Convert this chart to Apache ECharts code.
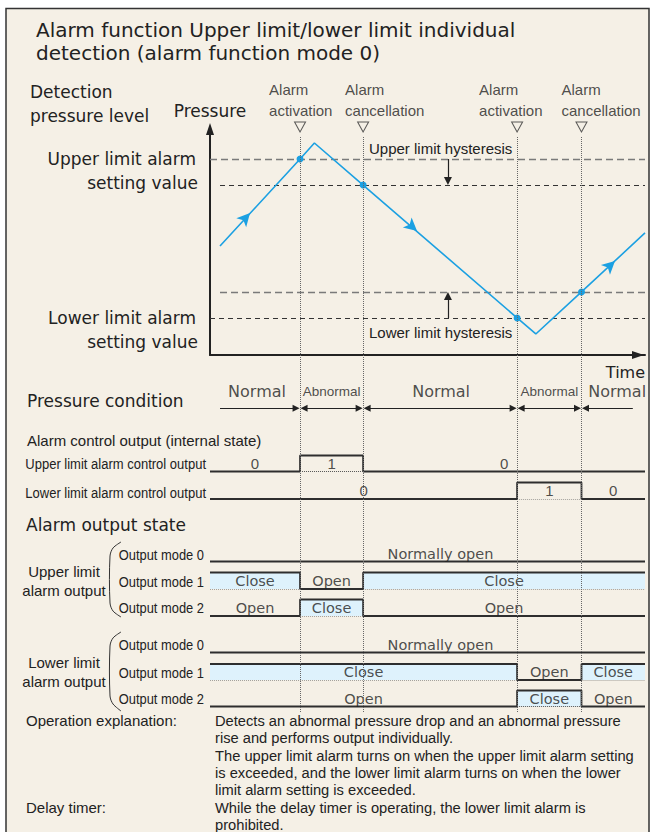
<!DOCTYPE html>
<html>
<head>
<meta charset="utf-8">
<script src="https://cdn.jsdelivr.net/npm/echarts@6/dist/echarts.min.js"></script>
<style>
html, body { margin: 0; padding: 0; background: #fff; }
#main { width: 654px; height: 832px; }
</style>
</head>
<body>
<div id="main"></div>
<script>
// time runs 0..100 across the diagram, pressure 0..100 up the chart
var eventTimes = [20.7, 35.2, 70.6, 85.4];
var eventLabels = ['Alarm\nactivation', 'Alarm\ncancellation', 'Alarm\nactivation', 'Alarm\ncancellation'];

// pressure trace (includes the four crossing points)
var traceTime = [2.3, 20.7, 24.0, 35.2, 70.6, 74.9, 85.4, 100];
var tracePressure = [48.2, 86.7, 93.8, 75.2, 16.4, 9.3, 27.9, 54.0];
var crossingIndex = [1, 3, 4, 6];
var flowTime = [9.2, 47.6, 93.1];
var flowPressure = [62.8, 54.9, 41.6];
var flowAngle = [47.5, -40.9, 42.8];

// setting levels: upper setting, upper reset, lower reset, lower setting
var levelValues = [86.7, 75.2, 27.9, 16.4];
var levelStart = [0, 2.3, 2.3, 0];
var hysteresisTime = 54.7;

// pressure condition
var conditionBreaks = [2.3].concat(eventTimes, [97.2]);
var conditionNames = ['Normal', 'Abnormal', 'Normal', 'Abnormal', 'Normal'];

// output states between breaks (1 = high / Close)
var stateBreaks = [0].concat(eventTimes, [100]);
var upperControl = [0, 1, 0, 0, 0];
var lowerControl = [0, 0, 0, 1, 0];
var upperMode0 = [0, 0, 0, 0, 0];
var upperMode1 = [1, 0, 1, 1, 1];
var upperMode2 = [0, 1, 0, 0, 0];
var lowerMode0 = [0, 0, 0, 0, 0];
var lowerMode1 = [1, 1, 1, 0, 1];
var lowerMode2 = [0, 0, 0, 1, 0];

var rows = [
  { name: 'Upper limit alarm control output', states: upperControl, kind: 'ctrl' },
  { name: 'Lower limit alarm control output', states: lowerControl, kind: 'ctrl' },
  { name: 'Output mode 0', states: upperMode0, kind: 'mode0' },
  { name: 'Output mode 1', states: upperMode1, kind: 'mode' },
  { name: 'Output mode 2', states: upperMode2, kind: 'mode' },
  { name: 'Output mode 0', states: lowerMode0, kind: 'mode0' },
  { name: 'Output mode 1', states: lowerMode1, kind: 'mode' },
  { name: 'Output mode 2', states: lowerMode2, kind: 'mode' }
];

// layout
var X_LEFT = 210, X_WIDTH = 435, PX_T = X_WIDTH / 100;
var P_TOP = 129, P_HEIGHT = 226, PX_P = P_HEIGHT / 100;
var rowBox = [ // top, height, label y
  [455.5, 16, 464], [482.5, 16.5, 492.5],
  [545.5, 16, 555], [572.5, 16.5, 581.5], [599.5, 16.5, 608],
  [636.5, 16, 645], [664, 16, 672.5], [690.5, 16, 699]
];
var eventShift = [-31, -18, -38, -20];
var conditionShift = [-3, 0, 1, 0, 10];
var normallyOpenShift = 13;

var BLUE = '#1ba0e2';
var INK = '#222';
var WIDE = "'DejaVu Sans', sans-serif";
var REG = "'Liberation Sans', Arial, sans-serif";

function txt(x, y, s, size, fam, align, sx) {
  return {
    type: 'text', x: x, y: y, z: 10, silent: true, scaleX: sx || 1,
    style: { text: s, font: size + 'px ' + fam, fill: INK, textAlign: align || 'left', textVerticalAlign: 'middle' }
  };
}

var grids = [], xAxes = [], yAxes = [], series = [];
function addGrid(top, height) {
  var i = grids.length;
  grids.push({ left: X_LEFT, width: X_WIDTH, top: top, height: height });
  xAxes.push({ gridIndex: i, type: 'value', min: 0, max: 100, show: false });
  yAxes.push({ gridIndex: i, type: 'value', min: 0, max: 1, show: false });
  return i;
}

// grid 0: pressure chart
grids.push({ left: X_LEFT, width: X_WIDTH, top: P_TOP, height: P_HEIGHT });
xAxes.push({
  gridIndex: 0, type: 'value', min: 0, max: 100,
  axisLine: { show: true, onZero: false, symbol: ['none', 'triangle'], symbolSize: [8, 12], symbolOffset: [0, -7],
    lineStyle: { color: INK, width: 2 } },
  axisTick: { show: false }, axisLabel: { show: false }, splitLine: { show: false }
});
yAxes.push({
  gridIndex: 0, type: 'value', min: 0, max: 100,
  name: 'Pressure', nameLocation: 'end', nameGap: 10,
  nameTextStyle: { fontFamily: WIDE, fontSize: 17, color: INK },
  axisLine: { show: true, onZero: false, symbol: ['none', 'triangle'], symbolSize: [8, 12],
    lineStyle: { color: INK, width: 2 } },
  axisTick: { show: false }, axisLabel: { show: false }, splitLine: { show: false }
});

var gray = { color: '#7a7a7a', type: [7, 4], width: 1.3, opacity: 1 };
var dark = { color: '#333', type: [5, 4], width: 1.1, opacity: 1 };
series.push({
  type: 'lines', coordinateSystem: 'cartesian2d', xAxisIndex: 0, yAxisIndex: 0, z: 2, silent: true,
  lineStyle: { opacity: 1 },
  data: levelValues.map(function (v, i) {
    return { coords: [[levelStart[i], v], [100, v]], lineStyle: i % 2 === 0 ? gray : dark };
  })
});
series.push({
  type: 'line', xAxisIndex: 0, yAxisIndex: 0, z: 3, silent: true, clip: false,
  showSymbol: false, lineStyle: { color: BLUE, width: 1.6 },
  data: traceTime.map(function (t, i) { return [t, tracePressure[i]]; })
});
series.push({
  type: 'scatter', xAxisIndex: 0, yAxisIndex: 0, z: 4, silent: true,
  symbolSize: 7, itemStyle: { color: BLUE, opacity: 1 },
  data: crossingIndex.map(function (i) { return [traceTime[i], tracePressure[i]]; })
});
series.push({
  type: 'scatter', xAxisIndex: 0, yAxisIndex: 0, z: 4, silent: true,
  symbol: 'arrow', symbolSize: [10, 13], itemStyle: { color: BLUE, opacity: 1 },
  data: flowTime.map(function (t, i) {
    return { value: [t, flowPressure[i]], symbolRotate: flowAngle[i] - 90 };
  })
});
var hShrink = 4 / PX_P;
series.push({
  type: 'lines', coordinateSystem: 'cartesian2d', xAxisIndex: 0, yAxisIndex: 0, z: 4, silent: true,
  symbol: ['none', 'triangle'], symbolSize: 8,
  lineStyle: { color: INK, width: 1.2, opacity: 1 },
  data: [
    { coords: [[hysteresisTime, levelValues[0]], [hysteresisTime, levelValues[1] + hShrink]] },
    { coords: [[hysteresisTime, levelValues[3]], [hysteresisTime, levelValues[2] - hShrink]] }
  ]
});

// grid 1: event guides across the whole diagram
var gE = addGrid(136, 576);
series.push({
  type: 'lines', coordinateSystem: 'cartesian2d', xAxisIndex: gE, yAxisIndex: gE, z: 8, silent: true,
  lineStyle: { color: '#666', type: 'dotted', width: 1, opacity: 1 },
  data: eventTimes.map(function (t) { return { coords: [[t, 0], [t, 1]] }; })
});
series.push({
  type: 'scatter', xAxisIndex: gE, yAxisIndex: gE, z: 8, silent: true,
  symbol: 'triangle', symbolRotate: 180, symbolSize: [11, 10], symbolOffset: [0, -9],
  itemStyle: { color: 'rgba(0,0,0,0)', borderColor: '#333', borderWidth: 1 },
  data: eventTimes.map(function (t) { return [t, 1]; })
});
series.push({
  type: 'scatter', xAxisIndex: gE, yAxisIndex: gE, z: 8, silent: true, clip: false,
  symbolSize: 1, itemStyle: { color: 'rgba(0,0,0,0)' },
  data: eventTimes.map(function (t, i) {
    return {
      value: [t, 1],
      label: {
        show: true, position: 'inside', offset: [eventShift[i], -36], align: 'left',
        formatter: eventLabels[i], fontFamily: REG, fontSize: 15, lineHeight: 21, color: INK
      }
    };
  })
});

// grid 2: pressure condition arrows (arrows at y 0.25, names at y 0.75)
var gC = addGrid(385, 31);
var cShrink = 4 / PX_T;
var cb = conditionBreaks, last = cb.length - 2;
function condLines(symbols, idx) {
  return {
    type: 'lines', coordinateSystem: 'cartesian2d', xAxisIndex: gC, yAxisIndex: gC, z: 5, silent: true,
    symbol: symbols, symbolSize: 7, lineStyle: { color: INK, width: 1.2, opacity: 1 },
    data: idx.map(function (i) {
      var a = i === 0 ? cb[0] : cb[i] + cShrink;
      var b = i === last ? cb[last + 1] : cb[i + 1] - cShrink;
      return { coords: [[a, 0.25], [b, 0.25]] };
    })
  };
}
series.push(condLines(['none', 'triangle'], [0]));
series.push(condLines(['triangle', 'triangle'], [1, 2, 3]));
series.push(condLines(['triangle', 'none'], [last]));
series.push({
  type: 'scatter', xAxisIndex: gC, yAxisIndex: gC, z: 5, silent: true, clip: false,
  symbolSize: 1, itemStyle: { color: 'rgba(0,0,0,0)' },
  data: conditionNames.map(function (n, i) {
    var abn = n === 'Abnormal';
    return {
      value: [(cb[i] + cb[i + 1]) / 2, 0.78],
      label: { show: true, position: 'inside', offset: [conditionShift[i], 0], formatter: n, color: INK,
        fontFamily: abn ? REG : WIDE, fontSize: abn ? 13.5 : 16 }
    };
  })
});

// signal rows
rows.forEach(function (row, r) {
  var g = addGrid(rowBox[r][0], rowBox[r][1]);
  var st = row.states;
  var pts = stateBreaks.map(function (t, i) { return [t, st[Math.min(i, st.length - 1)]]; });
  series.push({
    type: 'line', xAxisIndex: g, yAxisIndex: g, z: 3, silent: true, clip: false,
    step: 'end', showSymbol: false,
    lineStyle: { color: '#2e2e2e', width: 1.8 },
    areaStyle: row.kind === 'mode' ? { color: '#def2fc', opacity: 1, origin: 'start' } : undefined,
    data: pts
  });
  // runs of equal state
  var runs = [];
  st.forEach(function (s, i) {
    var a = stateBreaks[i], b = stateBreaks[i + 1];
    if (runs.length && runs[runs.length - 1].s === s) runs[runs.length - 1].b = b;
    else runs.push({ s: s, a: a, b: b });
  });
  var highRuns = runs.filter(function (u) { return u.s === 1; });
  if (highRuns.length) {
    series.push({
      type: 'lines', coordinateSystem: 'cartesian2d', xAxisIndex: g, yAxisIndex: g, z: 4, silent: true,
      lineStyle: { color: '#555', type: 'dotted', width: 1, opacity: 1 },
      data: highRuns.map(function (u) { return { coords: [[u.a, 0], [u.b, 0]] }; })
    });
  }
  series.push({
    type: 'scatter', xAxisIndex: g, yAxisIndex: g, z: 5, silent: true, clip: false,
    symbolSize: 1, itemStyle: { color: 'rgba(0,0,0,0)' },
    data: runs.map(function (u) {
      var text, fam, size, shift = 0;
      if (row.kind === 'ctrl') { text = String(u.s); fam = REG; size = 15; }
      else if (row.kind === 'mode0') { text = 'Normally open'; fam = WIDE; size = 14.5; shift = normallyOpenShift; }
      else { text = u.s ? 'Close' : 'Open'; fam = WIDE; size = 14.5; }
      return {
        value: [(u.a + u.b) / 2, 0.5],
        label: { show: true, position: 'inside', offset: [shift, 0], formatter: text,
          fontFamily: fam, fontSize: size, color: INK }
      };
    })
  });
});

// static texts and decorations
var graphics = [
  { type: 'rect', z: -10, silent: true, shape: { x: 6, y: 8.5, width: 643, height: 840 },
    style: { fill: '#f5f0e6', stroke: '#333', lineWidth: 1.5 } },
  txt(36, 30, 'Alarm function Upper limit/lower limit individual', 20, WIDE),
  txt(36, 53, 'detection (alarm function mode 0)', 20, WIDE),
  txt(30, 92, 'Detection', 17, WIDE),
  txt(30, 116, 'pressure level', 17, WIDE),
  txt(196, 159, 'Upper limit alarm', 17, WIDE, 'right'),
  txt(198, 183, 'setting value', 17, WIDE, 'right'),
  txt(196, 318, 'Lower limit alarm', 17, WIDE, 'right'),
  txt(198, 342, 'setting value', 17, WIDE, 'right'),
  txt(369, 148, 'Upper limit hysteresis', 15, REG),
  txt(369, 332, 'Lower limit hysteresis', 15, REG),
  txt(645, 372, 'Time', 16, WIDE, 'right'),
  txt(27, 401, 'Pressure condition', 17, WIDE),
  txt(27, 440, 'Alarm control output (internal state)', 15, REG),
  txt(26, 525, 'Alarm output state', 17, WIDE),
  txt(64, 571, 'Upper limit', 15, REG, 'center'),
  txt(64, 590, 'alarm output', 15, REG, 'center'),
  txt(64, 662, 'Lower limit', 15, REG, 'center'),
  txt(64, 681, 'alarm output', 15, REG, 'center'),
  { type: 'polyline', z: 1, silent: true,
    shape: { points: [[121, 542], [113, 548], [110, 556], [110, 603], [113, 611], [121, 617]], smooth: 0.3 },
    style: { stroke: '#333', fill: null, lineWidth: 1 } },
  { type: 'polyline', z: 1, silent: true,
    shape: { points: [[121, 632], [113, 638], [110, 646], [110, 696], [113, 704], [121, 711]], smooth: 0.3 },
    style: { stroke: '#333', fill: null, lineWidth: 1 } },
  txt(26, 720.5, 'Operation explanation:', 15, REG),
  txt(215, 720.5, 'Detects an abnormal pressure drop and an abnormal pressure', 14.7, REG),
  txt(215, 738, 'rise and performs output individually.', 14.7, REG),
  txt(215, 755.5, 'The upper limit alarm turns on when the upper limit alarm setting', 14.7, REG),
  txt(215, 772.5, 'is exceeded, and the lower limit alarm turns on when the lower', 14.7, REG),
  txt(215, 790, 'limit alarm setting is exceeded.', 14.7, REG),
  txt(26, 807.5, 'Delay timer:', 15, REG),
  txt(215, 807.5, 'While the delay timer is operating, the lower limit alarm is', 14.7, REG),
  txt(215, 825, 'prohibited.', 14.7, REG)
];
rows.forEach(function (row, r) {
  var ctrl = row.kind === 'ctrl';
  graphics.push(txt(ctrl ? 206 : 204, rowBox[r][2], row.name, ctrl ? 15.5 : 15, REG, 'right', ctrl ? 0.84 : 0.86));
});

var chart = echarts.init(document.getElementById('main'), null, { renderer: 'svg' });
chart.setOption({
  backgroundColor: '#ffffff',
  animation: false,
  grid: grids,
  xAxis: xAxes,
  yAxis: yAxes,
  graphic: { elements: graphics },
  series: series
});
</script>
</body>
</html>
